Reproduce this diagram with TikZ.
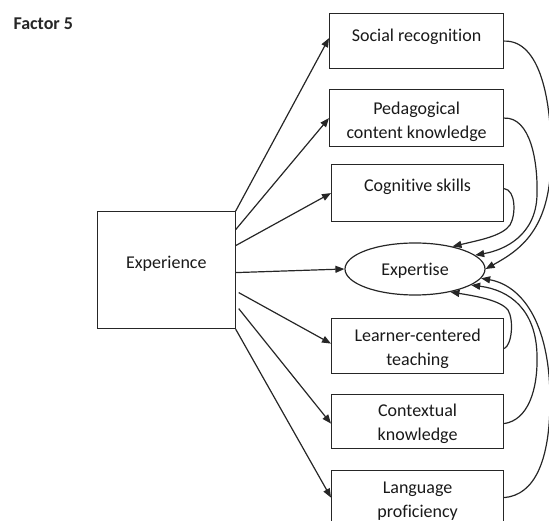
\documentclass[tikz,border=0pt]{standalone}
\usepackage{fontspec}
\setmainfont{Carlito}[Ligatures={NoCommon}]
\usetikzlibrary{arrows.meta,shapes.geometric}
\begin{document}
\begin{tikzpicture}[x=1pt,y=-1pt,
  lw/.style={line width=1.2pt, draw=black!85},
  box/.style={lw, minimum width=172pt, minimum height=55pt, inner sep=0pt, align=center,
    font=\fontsize{18}{24}\selectfont, anchor=north west, text=black!90},
  arr/.style={line width=1.2pt, draw=black!85, -{Triangle[length=9pt,width=7pt]}},
]
\useasboundingbox (0,0) rectangle (549,521);

\node[anchor=base west, font=\fontsize{18}{24}\selectfont\bfseries, text=black!85] (title) at (10,30) {Factor 5};

\node[box, minimum width=174pt, text depth=11pt] (soc) at (329,13) {Social recognition};
\node[box, minimum width=174pt, minimum height=57pt, text height=44pt] (pck) at (329,89) {Pedagogical\\content knowledge};
\node[box, minimum height=57pt, text depth=15pt] (cog) at (331,164) {Cognitive skills};
\node[box, text height=41.5pt] (lrn) at (331,318) {Learner-centered\\teaching};
\node[box, minimum height=54pt, text height=41.5pt] (ctx) at (331,394) {Contextual\\knowledge};
\node[box, minimum height=58pt, text height=38.5pt] (lang) at (331,470) {Language\\proficiency};
\node[box, minimum width=137.5pt, minimum height=117pt, text depth=15pt] (exp) at (97,211) {Experience};
\node[ellipse, lw, minimum width=140pt, minimum height=52pt, inner sep=0pt, text height=15pt,
  font=\fontsize{18}{24}\selectfont, text=black!90] (ept) at (415,269) {Expertise};

% from Experience
\draw[arr] (exp.north east) -- ([yshift=3pt]soc.west);
\draw[arr] ([yshift=40.5pt]exp.east) -- (pck.west);
\draw[arr] ([yshift=24.5pt]exp.east) -- (cog.west);
\draw[arr] ([yshift=-2.5pt]exp.east) -- (ept.west);
\draw[arr] ([xshift=3pt,yshift=-22.5pt]exp.east) -- ([yshift=2.5pt]lrn.west);
\draw[arr] ([xshift=3pt,yshift=-38.5pt]exp.east) -- ([yshift=-2pt]ctx.west);
\draw[arr] (exp.south east) -- ([yshift=2pt]lang.west);

% feedback curves to Expertise
\draw[arr] (soc.east) .. controls (540,40) and (552,100) .. (551,160)
  .. controls (550,230) and (520,250) .. (ept.east);
\draw[arr] (pck.east) .. controls (530,117) and (538,160) .. (537,195)
  .. controls (536,235) and (505,250) .. (ept.13);
\draw[arr] ([yshift=4.5pt]cog.east) .. controls (516,190) and (516,215) .. (510,225)
  .. controls (502,236) and (480,240) .. (ept.31);
\draw[arr] ([yshift=-2.5pt]lrn.east) .. controls (512,345) and (514,320) .. (508,310)
  .. controls (500,300) and (475,296) .. (ept.-33);
\draw[arr] ([yshift=-2pt]ctx.east) .. controls (528,420) and (538,390) .. (537,355)
  .. controls (536,310) and (510,290) .. (ept.-16);
\draw[arr] ([yshift=2pt]lang.east) .. controls (535,495) and (550,460) .. (550,400)
  .. controls (550,320) and (520,285) .. (ept.-8);
\end{tikzpicture}
\end{document}
